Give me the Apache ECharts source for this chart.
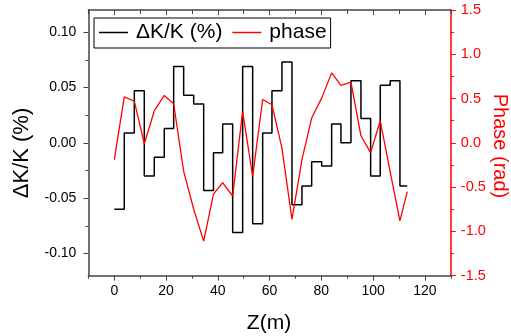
<!DOCTYPE html>
<html>
<head>
<meta charset="utf-8">
<script src="https://cdn.jsdelivr.net/npm/echarts@6/dist/echarts.min.js"></script>
<style>html,body{margin:0;padding:0;background:#fff}#c{width:511px;height:336px}</style>
</head>
<body>
<div id="c"></div>
<script>
// Z positions (m) of segment edges / phase sample points
const zEdges = [0, 3.86, 7.73, 11.59, 15.45, 19.31, 22.94, 26.80, 30.67, 34.53, 38.32, 41.87, 45.73, 49.59, 53.46, 57.32, 60.91, 64.77, 68.64, 72.50, 76.25, 80.11, 83.97, 87.56, 91.43, 95.29, 99.03, 102.74, 106.60, 110.35, 113.17];
// ΔK/K (%) level of each segment
const dkk = [-0.060, 0.009, 0.047, -0.030, -0.013, 0.013, 0.069, 0.043, 0.035, -0.043, -0.009, 0.017, -0.081, 0.069, -0.073, 0.009, 0.047, 0.073, -0.056, -0.039, -0.017, -0.021, 0.017, 0.000, 0.056, 0.022, -0.030, 0.052, 0.056, -0.039];
// phase (rad) at each Z point
const phase = [-0.19, 0.52, 0.47, -0.01, 0.36, 0.535, 0.44, -0.32, -0.75, -1.11, -0.58, -0.45, -0.60, 0.355, -0.38, 0.49, 0.43, -0.06, -0.865, -0.19, 0.28, 0.505, 0.79, 0.65, 0.685, 0.08, -0.11, 0.25, -0.33, -0.88, -0.55];
// tick labels / positions
const xMajor = [0, 20, 40, 60, 80, 100, 120];
const xMinor = [-10, 10, 30, 50, 70, 90, 110, 130];
const yLeftMajor = [-0.10, -0.05, 0.00, 0.05, 0.10];
const yLeftMinor = [-0.075, -0.025, 0.025, 0.075];
const yRightMajor = [-1.5, -1.0, -0.5, 0.0, 0.5, 1.0, 1.5];
const yRightMinor = [-1.25, -0.75, -0.25, 0.25, 0.75, 1.25];

const FONT = 'Liberation Sans, Arial, sans-serif';
const AX = '#444';
const RED = '#ff0000';

const dkkData = zEdges.map((z, i) => [z, dkk[Math.min(i, dkk.length - 1)]]);
const phaseData = zEdges.map((z, i) => [z, phase[i]]);

function xAx(pos, vals, len, inside, showLine, labels) {
  return {
    type: 'value', position: pos, min: -10, max: 130,
    splitLine: {show: false},
    axisLine: {show: showLine, onZero: false, lineStyle: {color: AX, width: 1.5}},
    axisTick: {show: true, inside: inside, length: len, customValues: vals, lineStyle: {color: AX, width: 1}},
    axisLabel: labels ? {show: true, customValues: vals, fontSize: 14, color: '#000', fontFamily: FONT, margin: 8} : {show: false}
  };
}
function yAx(pos, min, max, vals, len, color, showLine, labels, fmt, margin, fs) {
  return {
    type: 'value', position: pos, min: min, max: max,
    splitLine: {show: false},
    axisLine: {show: showLine, onZero: false, lineStyle: {color: color, width: 1.5}},
    axisTick: {show: true, inside: false, length: len, customValues: vals, lineStyle: {color: color, width: 1}},
    axisLabel: labels ? {show: true, customValues: vals, fontSize: fs, color: color === AX ? '#000' : color, fontFamily: FONT, margin: margin, formatter: v => Number(v).toFixed(fmt)} : {show: false}
  };
}

const chart = echarts.init(document.getElementById('c'), null, {renderer: 'canvas'});
chart.setOption({
  animation: false,
  backgroundColor: '#fff',
  grid: {left: 88.4, right: 60.2, top: 10, bottom: 60.3, containLabel: false},
  xAxis: [
    xAx('bottom', xMajor, 5, false, true, true),
    xAx('bottom', xMinor, 3, false, false, false),
    xAx('top', xMajor, 5, true, true, false),
    xAx('top', xMinor, 4, true, false, false)
  ],
  yAxis: [
    yAx('left', -0.12, 0.12, yLeftMajor, 5, AX, true, true, 2, 12, 14),
    yAx('left', -0.12, 0.12, yLeftMinor, 3, AX, false, false),
    yAx('right', -1.5, 1.5, yRightMajor, 5, RED, true, true, 1, 10, 14.5),
    yAx('right', -1.5, 1.5, yRightMinor, 3, RED, false, false)
  ],
  legend: {
    left: 94, top: 18, padding: [4, 4, 5, 5], itemWidth: 29, itemHeight: 1.5, itemGap: 10,
    borderColor: '#000', borderWidth: 1, backgroundColor: '#fff',
    textStyle: {fontSize: 21, color: '#000', fontFamily: FONT, padding: [0, 0, 0, 3]},
    data: [{name: 'ΔK/K (%)', icon: 'rect'}, {name: 'phase', icon: 'rect'}]
  },
  graphic: [
    {type: 'text', x: 22, y: 153, rotation: Math.PI / 2, style: {text: 'ΔK/K (%)', font: '22px ' + FONT, fill: '#000', textAlign: 'center', textVerticalAlign: 'middle'}},
    {type: 'text', x: 500, y: 146, rotation: -Math.PI / 2, style: {text: 'Phase (rad)', font: '20px ' + FONT, fill: RED, textAlign: 'center', textVerticalAlign: 'middle'}},
    {type: 'text', x: 269, y: 323, style: {text: 'Z(m)', font: '21px ' + FONT, fill: '#000', textAlign: 'center', textVerticalAlign: 'middle'}}
  ],
  series: [
    {name: 'ΔK/K (%)', type: 'line', step: 'end', xAxisIndex: 0, yAxisIndex: 0, data: dkkData, showSymbol: false, color: '#000', lineStyle: {color: '#000', width: 1.5}, z: 2},
    {name: 'phase', type: 'line', xAxisIndex: 0, yAxisIndex: 2, data: phaseData, showSymbol: false, color: RED, lineStyle: {color: RED, width: 1.3}, z: 3}
  ]
});
</script>
</body>
</html>
